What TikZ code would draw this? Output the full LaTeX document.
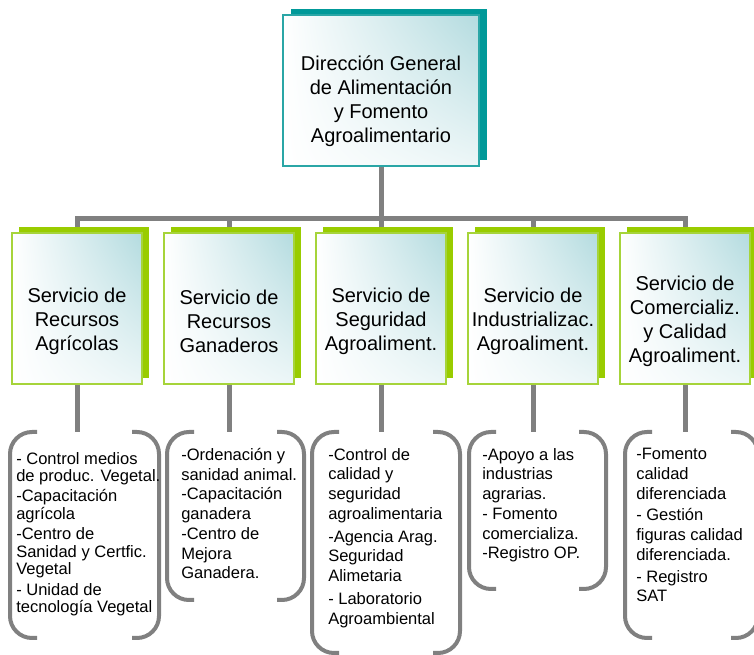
\documentclass[tikz,border=0pt]{standalone}
\usepackage{fontspec}
\setmainfont{Liberation Sans}
\usetikzlibrary{shadows,shadings,backgrounds}
\definecolor{dirteal}{HTML}{009999}
\definecolor{dirline}{HTML}{2AA6A6}
\definecolor{svcgreen}{HTML}{99CC00}
\definecolor{svcline}{HTML}{A6D43A}
\definecolor{boxtint}{HTML}{B3DBDF}
\definecolor{linkgray}{HTML}{808080}
\newcommand{\bracketpair}[2]{%
  \draw[brk] (#1) ++(27,0) -- (#1) -- (#1 |- #2) -- ++(27,0);
  \draw[brk] (#1 -| #2) ++(-27,0) -- (#1 -| #2) -- (#2) -- ++(-27,0);}
\begin{document}
\begin{tikzpicture}[x=0.75pt,y=-0.75pt,
  boxtext/.style={font=\fontsize{15}{18}\selectfont,align=center,inner sep=0pt},
  funtext/.style={font=\fontsize{12.4}{14.8}\selectfont,align=left,anchor=north west,inner sep=0pt},
  dirbox/.style={draw=dirline,line width=0.8pt,minimum width=147pt,minimum height=113.25pt,
    upper right=boxtint,upper left=white,lower left=white,lower right=boxtint!25,
    drop shadow={shadow xshift=6pt,shadow yshift=4.5pt,fill=dirteal,opacity=1}},
  svcbox/.style={draw=svcline,line width=1.1pt,minimum width=97.5pt,minimum height=113.25pt,
    upper right=boxtint,upper left=white,lower left=white,lower right=boxtint!25,
    drop shadow={shadow xshift=5.25pt,shadow yshift=4.5pt,fill=svcgreen,opacity=1}},
  link/.style={draw=linkgray,line width=3.75pt},
  brk/.style={draw=linkgray,line width=3pt,rounded corners=16.5pt}]
\useasboundingbox (0,0) rectangle (754,655);
\clip (0,0) rectangle (754,655);

\node[dirbox] (dir) at (381,90.5) {};
\node[boxtext] (dirtext) at (381,101) {Dirección General\\de Alimentación\\y Fomento\\Agroalimentario};

\foreach \name [count=\i] in {{Servicio de\\Recursos\\Agrícolas},{Servicio de\\Recursos\\Ganaderos},
  {Servicio de\\Seguridad\\Agroaliment.},{Servicio de\\Industrializac.\\Agroaliment.},
  {Servicio de\\Comercializ.\\y Calidad\\Agroaliment.}}
{
  \node[svcbox] (svc\i) at ({77+152*(\i-1)},308.5) {};
  \node[boxtext] (svctext\i) at ({77+152*(\i-1)},321) {\name};
}

\begin{scope}[on background layer]
  \draw[link] (dir.south) -- ++(0,51.5) coordinate (bus);
  \foreach \i in {1,...,5}
    \draw[link] (bus) -| (svc\i.north);
\end{scope}

\foreach \l/\r/\b [count=\i] in {10/159/638,167/304/600,312/460/653,469/606/589,625/758/638}
{
  \coordinate (nw\i) at (\l,432);
  \coordinate (se\i) at (\r,\b);
  \bracketpair{nw\i}{se\i}
  \draw[link] (svc\i.south) -- (svc\i.south |- nw\i);
}

\node[funtext,font=\fontsize{12.4}{13.2}\selectfont] (fun1) at (16,452)
  {- Control medios\\de produc. Vegetal.\\[1.9pt]-Capacitación\\agrícola\\[1.9pt]-Centro de\\Sanidad y Certfic.\\Vegetal\\[1.9pt]- Unidad de\\tecnología Vegetal};
\node[funtext] (fun2) at (181,448)
  {-Ordenación y\\sanidad animal.\\-Capacitación\\ganadera\\-Centro de\\Mejora\\Ganadera.};
\node[funtext] (fun3) at (328,448)
  {-Control de\\calidad y\\seguridad\\agroalimentaria\\[2.3pt]-Agencia Arag.\\Seguridad\\Alimetaria\\[2.3pt]- Laboratorio\\Agroambiental};
\node[funtext] (fun4) at (482,448)
  {-Apoyo a las\\industrias\\agrarias.\\- Fomento\\comercializa.\\-Registro OP.};
\node[funtext] (fun5) at (636,448)
  {-Fomento\\calidad\\diferenciada\\[1.5pt]- Gestión\\figuras calidad\\diferenciada.\\[1.5pt]- Registro\\SAT};
\end{tikzpicture}
\end{document}
